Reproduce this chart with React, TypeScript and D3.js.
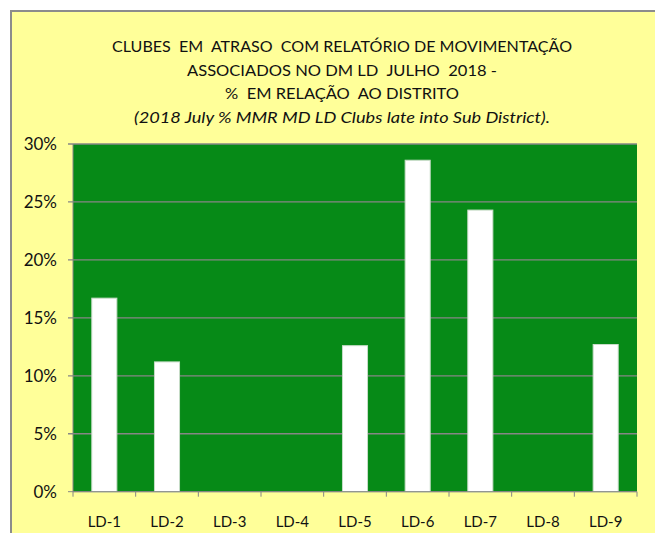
import React, { useEffect, useRef } from "react";
import * as d3 from "d3";

const categories = ["LD-1", "LD-2", "LD-3", "LD-4", "LD-5", "LD-6", "LD-7", "LD-8", "LD-9"];
const values = [0.167, 0.112, 0, 0, 0.126, 0.286, 0.243, 0, 0.127];
const yTicks = [0, 0.05, 0.1, 0.15, 0.2, 0.25, 0.3];
const NB = "\u00A0";
const titleLines = [
  `CLUBES ${NB}EM ${NB}ATRASO ${NB}COM RELATÓRIO DE MOVIMENTAÇÃO`,
  `ASSOCIADOS NO DM LD ${NB}JULHO ${NB}2018 -`,
  `% ${NB}EM RELAÇÃO ${NB}AO DISTRITO`,
];
const subtitle = "(2018 July % MMR MD LD Clubs late into Sub District).";
const titleWidths = [460, 310, 234];

const W = 655;
const H = 533;
const FONT = "Lato, 'DejaVu Sans', sans-serif";

export default function App() {
  const ref = useRef<SVGSVGElement | null>(null);
  useEffect(() => {
    const svg = d3.select(ref.current);
    svg.selectAll("*").remove();
    const left = 73, right = 637, top = 144, bottom = 491.7;
    const x = d3.scaleBand<string>().domain(categories).range([left, right]).paddingInner(0.6).paddingOuter(0.3);
    const xb = d3.scaleBand<string>().domain(categories).range([left, right]);
    const y = d3.scaleLinear().domain([0, 0.3]).range([bottom, top]);

    svg.append("rect").attr("x", 0).attr("y", 0).attr("width", W).attr("height", H).attr("fill", "#ffffff");
    svg.append("rect").attr("x", 11).attr("y", 11).attr("width", W + 10).attr("height", H + 10)
      .attr("fill", "#FFFF99").attr("stroke", "#8c8c8c").attr("stroke-width", 2);

    const t = svg.append("g").attr("font-family", FONT).attr("fill", "#111").attr("text-anchor", "middle");
    titleLines.forEach((s, i) => {
      t.append("text").attr("x", 342).attr("y", 52 + i * 23.5).attr("font-size", 16)
        .attr("textLength", titleWidths[i]).attr("lengthAdjust", "spacingAndGlyphs").text(s);
    });
    t.append("text").attr("x", 342).attr("y", 122.5).attr("font-size", 16).attr("font-style", "italic")
      .attr("textLength", 416).attr("lengthAdjust", "spacingAndGlyphs").text(subtitle);

    svg.append("rect").attr("x", left).attr("y", top).attr("width", right - left).attr("height", bottom - top).attr("fill", "#068A17");

    yTicks.forEach((v) => {
      svg.append("line").attr("x1", left - 5).attr("x2", right).attr("y1", y(v)).attr("y2", y(v))
        .attr("stroke", "#868686").attr("stroke-width", v === 0 ? 1 : 1.3);
      svg.append("text").attr("x", 57).attr("y", y(v)).attr("dy", "0.35em").attr("text-anchor", "end")
        .attr("font-family", FONT).attr("font-size", 17).attr("fill", "#111").text(d3.format(".0%")(v));
    });

    svg.selectAll(".bar").data(values).enter().append("rect")
      .attr("x", (_, i) => x(categories[i])!)
      .attr("width", x.bandwidth())
      .attr("y", (d) => y(d))
      .attr("height", (d) => bottom - y(d))
      .attr("fill", "#ffffff")
      .attr("stroke", (d) => (d > 0 ? "#c8dcc8" : "none"))
      .attr("stroke-width", 1);

    svg.append("line").attr("x1", left).attr("x2", left).attr("y1", top).attr("y2", bottom).attr("stroke", "#868686");
    svg.append("line").attr("x1", left).attr("x2", right).attr("y1", bottom).attr("y2", bottom).attr("stroke", "#868686");
    const bounds = categories.map((c) => xb(c)!).concat([right]);
    bounds.forEach((bx) => {
      svg.append("line").attr("x1", bx).attr("x2", bx).attr("y1", bottom).attr("y2", bottom + 5).attr("stroke", "#868686");
    });
    categories.forEach((c) => {
      svg.append("text").attr("x", xb(c)! + xb.bandwidth() / 2).attr("y", 522).attr("dy", "0.35em")
        .attr("text-anchor", "middle").attr("font-family", FONT).attr("font-size", 15).attr("fill", "#111").text(c);
    });
  }, []);
  return (
    <svg ref={ref} width={W} height={H} style={{ position: "absolute", left: 0, top: 0, display: "block" }} />
  );
}
